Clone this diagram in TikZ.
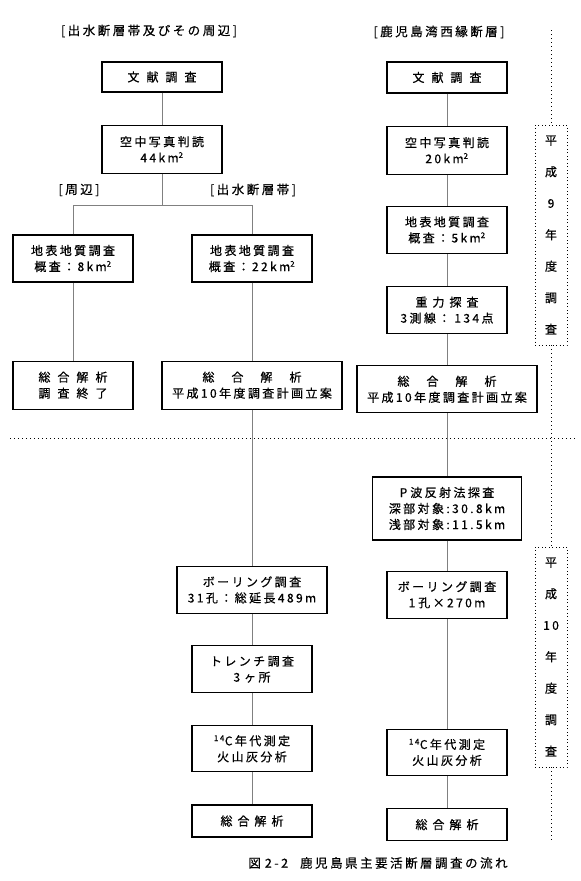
\documentclass[tikz,border=0pt]{standalone}
\usepackage{fontspec}
\setmainfont{Noto Sans CJK JP}[LetterSpace=20,FakeBold=0.6]
\usetikzlibrary{positioning,calc}

\begin{document}
\begin{tikzpicture}[
  x=1pt, y=1pt,
  node distance=32pt,
  box/.style={draw, line width=1.2pt, minimum width=120pt, align=center, inner sep=2pt, font=\fontsize{12}{16}\selectfont},
  link/.style={draw=gray, line width=0.9pt},
  lbl/.style={font=\fontsize{12.5}{15}\selectfont},
  period/.style={draw, line width=0.8pt, dash pattern=on 1pt off 2.5pt, minimum width=32pt, minimum height=220pt, align=center, font=\fontsize{12}{31.5}\selectfont},
  divide/.style={line width=0.8pt, dash pattern=on 1pt off 3pt}
]
\useasboundingbox (0,0) rectangle (581,-881);

% headings
\node[lbl] (headA) at (149,-31) {[出水断層帯及びその周辺]};
\node[lbl] (headB) at (439,-32) {[鹿児島湾西縁断層]};

% left flow (Izumi)
\node[box, minimum height=30pt] (litA) at (162,-77) {文\hspace{7pt}献\hspace{7pt}調\hspace{7pt}査};
\node[box, minimum height=48pt, below=of litA] (airA) {空中写真判読\\44km\textsuperscript{2}};
\coordinate (split) at ($(airA.south)+(0,-32)$);
\node[lbl] (sideL) at (79,-190) {[周辺]};
\node[lbl] (sideM) at (253,-190) {[出水断層帯]};
\node[box, minimum height=47pt] (geoL) at (73,-258.5) {地表地質調査\\概査：8km\textsuperscript{2}};
\node[box, minimum height=47pt] (geoM) at (252,-258.5) {地表地質調査\\概査：22km\textsuperscript{2}};
\node[box, minimum height=48pt, below=78pt of geoL] (sumL) {総\hspace{7pt}合\hspace{7pt}解\hspace{7pt}析\\調\hspace{7pt}査\hspace{7pt}終\hspace{7pt}了};
\node[box, minimum height=48pt, minimum width=180pt, below=78pt of geoM] (sumM) {総\hspace{17pt}合\hspace{17pt}解\hspace{17pt}析\\平成10年度調査計画立案};
\node[box, minimum height=47pt, minimum width=150pt, below=156pt of sumM] (boreM) {ボーリング調査\\31孔：総延長489m};
\node[box, minimum height=47pt, below=31pt of boreM] (trenchM) {トレンチ調査\\3\hspace{4pt}ヶ所};
\node[box, minimum height=46pt, below=of trenchM] (ageM) {\textsuperscript{14}C年代測定\\火山灰分析};
\node[box, minimum height=32pt, below=of ageM] (finM) {総\hspace{5pt}合\hspace{5pt}解\hspace{5pt}析};

% right flow (Kagoshima Bay west edge)
\node[box, minimum height=31pt] (litB) at (447,-77.5) {文\hspace{7pt}献\hspace{7pt}調\hspace{7pt}査};
\node[box, minimum height=48pt, below=of litB] (airB) {空中写真判読\\20km\textsuperscript{2}};
\node[box, minimum height=47pt, below=31pt of airB] (geoR) {地表地質調査\\概査：5km\textsuperscript{2}};
\node[box, minimum height=47pt, below=of geoR] (grav) {重\hspace{5pt}力\hspace{5pt}探\hspace{5pt}査\\3測線：\hspace{4pt}134点};
\node[box, minimum height=47pt, minimum width=180pt, below=31pt of grav] (sumR) {総\hspace{17pt}合\hspace{17pt}解\hspace{17pt}析\\平成10年度調査計画立案};
\node[box, minimum height=63pt, minimum width=149pt, below=63pt of sumR] (pwave) {P\hspace{3pt}波反射法探査\\深部対象:30.8km\\浅部対象:11.5km};
\node[box, minimum height=47pt, below=30pt of pwave] (boreR) {ボーリング調査\\1\hspace{3pt}孔×270m};
\node[box, minimum height=46pt, below=110pt of boreR] (ageR) {\textsuperscript{14}C年代測定\\火山灰分析};
\node[box, minimum height=32pt, below=of ageR] (finR) {総\hspace{5pt}合\hspace{5pt}解\hspace{5pt}析};

\draw[link] (airA) -- (split);
\draw[link] (geoL.north) |- (split) -| (geoM.north);
\foreach \a/\b in {litA/airA, geoL/sumL, geoM/sumM, sumM/boreM, boreM/trenchM, trenchM/ageM, ageM/finM,
  litB/airB, airB/geoR, geoR/grav, grav/sumR, sumR/pwave, pwave/boreR, boreR/ageR, ageR/finR}
  \draw[link] (\a) -- (\b);

% survey years
\node[period] (yr9) at (551,-235) {平\\成\\9\\年\\度\\調\\査};
\node[period] (yr10) at (551,-657) {平\\成\\10\\年\\度\\調\\査};
\coordinate (yrTop) at (551,-30);
\coordinate (yrEnd) at (551,-840);
\draw[divide] (yrTop) -- (yr9.north);
\draw[divide] (yr9.south) -- (yr10.north);
\draw[divide] (yr10.south) -- (yrEnd);
\coordinate (divL) at (10,-438);
\coordinate (divR) at (578,-438);
\draw[divide] (divL) -- (divR);

\node[lbl] (caption) at (378,-863) {図\hspace{4pt}2-2\hspace{12pt}鹿児島県主要活断層調査の流れ};
\end{tikzpicture}
\end{document}
